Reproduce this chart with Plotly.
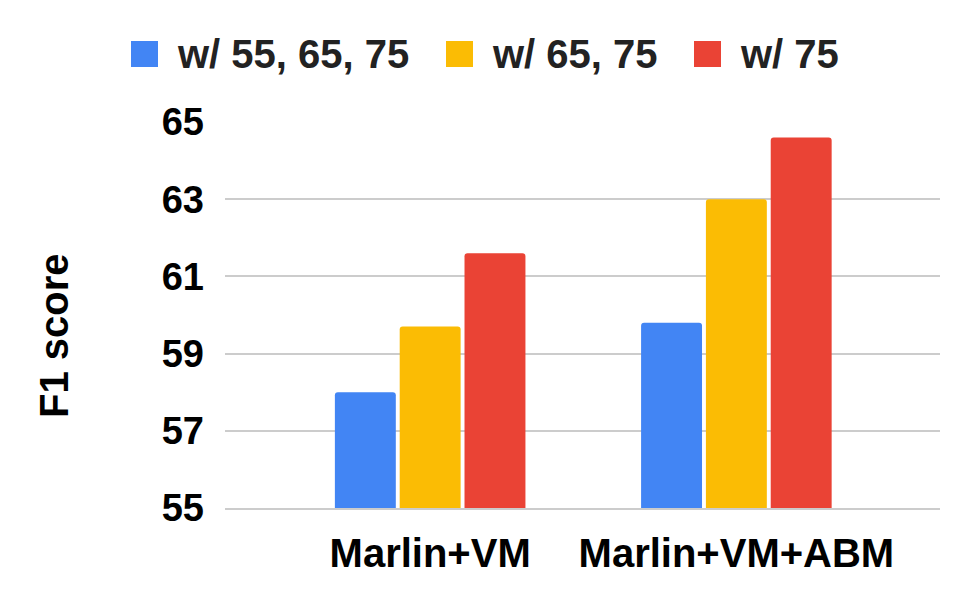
import plotly.graph_objects as go

# values
categories = ["Marlin+VM", "Marlin+VM+ABM"]
series_names = ["w/ 55, 65, 75", "w/ 65, 75", "w/ 75"]
f1_55_65_75 = [58.0, 59.8]
f1_65_75 = [59.7, 63.0]
f1_75 = [61.6, 64.6]
y_ticks = [55, 57, 59, 61, 63, 65]

colors = ["#4285F4", "#FBBC04", "#EA4335"]
FONT = "Liberation Sans, Arial, sans-serif"

# page body adds 8px margin, so work in shifted pixel coords
OFF = 8
W, H = 970, 606
L, R, T, B = 225 - OFF, 30 + OFF, 122 - OFF, 98 + OFF
pw, ph = W - L - R, H - T - B

def px_x(p):
    return (p - OFF - L) / pw

def px_y(p):
    return (H - B - (p - OFF)) / ph

fig = go.Figure()
for name, vals, col in zip(series_names, [f1_55_65_75, f1_65_75, f1_75], colors):
    fig.add_trace(go.Bar(x=categories, y=vals, name=name, marker_color=col,
                         marker_line_width=0, showlegend=False))

# legend: big squares like the sheets chart
legend_x = [131, 446, 694]
for name, col, x0 in zip(series_names, colors, legend_x):
    fig.add_shape(type="rect", xref="paper", yref="paper",
                  x0=px_x(x0), x1=px_x(x0 + 27), y0=px_y(67), y1=px_y(41),
                  fillcolor=col, line_width=0)
    fig.add_annotation(text=name, xref="paper", yref="paper",
                       x=px_x(x0 + 44), y=px_y(54), xanchor="left", yanchor="middle",
                       showarrow=False,
                       font=dict(family=FONT, size=40, color="#222222", weight="bold"))

fig.add_annotation(text="F1 score", xref="paper", yref="paper",
                   x=px_x(54), y=px_y(336), textangle=-90,
                   xanchor="center", yanchor="middle", showarrow=False,
                   font=dict(family=FONT, size=40, color="#000000", weight="bold"))

fig.update_layout(
    width=W, height=H,
    margin=dict(l=L, r=R, t=T, b=B),
    plot_bgcolor="white", paper_bgcolor="white",
    barmode="group", bargap=0.365, bargroupgap=0.06,
    barcornerradius=3,
    font=dict(family=FONT, color="#000000"),
)
fig.update_xaxes(range=[-0.67, 1.665], showgrid=False, zeroline=False,
                 showline=True, linecolor="#cccccc", linewidth=1.5,
                 ticks="", ticklabelstandoff=9,
                 tickfont=dict(family=FONT, size=40, color="#000000", weight="bold"))
fig.update_yaxes(range=[55, 65], tickvals=y_ticks, showgrid=True,
                 gridcolor="#cccccc", gridwidth=1.5, zeroline=False,
                 ticks="", ticklabelstandoff=20,
                 tickfont=dict(family=FONT, size=38, color="#000000", weight="bold"))

fig.write_html("out.html")
